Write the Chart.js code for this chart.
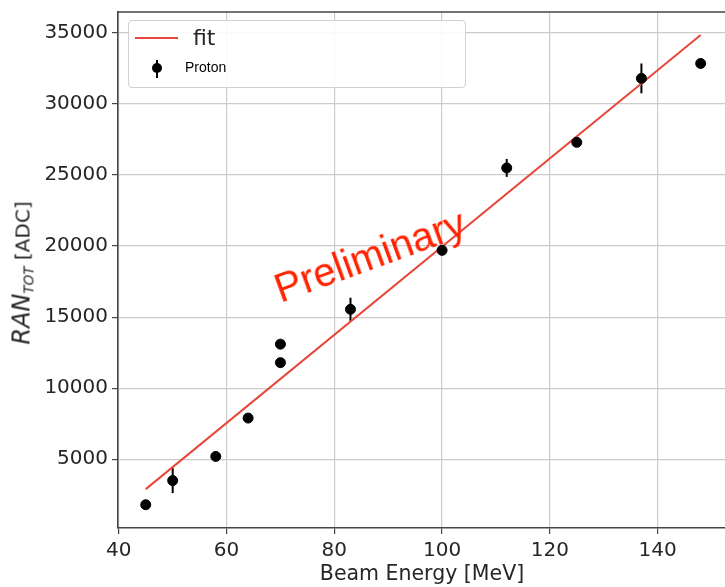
<!DOCTYPE html>
<html lang="en">
<head>
    <meta charset="UTF-8">
    <title>RAN_TOT vs Beam Energy</title>
    <script src="https://cdn.jsdelivr.net/npm/chart.js"></script>
    <style>
        body { margin: 0; background: #fff; overflow: hidden; }
        #wrap { position: relative; width: 725px; height: 587px; overflow: hidden; }
        canvas { position: absolute; left: 0; top: 0; }
        .abs { position: absolute; white-space: nowrap; }
        #ytitle {
            left: 22px; top: 273px;
            transform: translate(-50%, -50%) rotate(-90deg);
            font: 20px "DejaVu Sans", sans-serif; color: #262626;
        }
        #ytitle i.ran { font-size: 24px; }
        #ytitle sub { font-size: 13.5px; vertical-align: -4px; font-style: italic; }
        #legend {
            left: 128px; top: 20px; width: 336px; height: 66px;
            border: 1px solid #d0d0d0; border-radius: 4px;
            background: rgba(255, 255, 255, 0.9);
        }
        #prelim {
            left: 370px; top: 256px;
            transform: translate(-50%, -50%) rotate(-20deg);
            font: 40px "Liberation Sans", Arial, sans-serif; color: #ff2200;
        }
    </style>
</head>
<body>
<div id="wrap">
    <!-- canvas a little wider than the window: the original figure is cropped on the right -->
    <canvas id="c" width="732" height="587"></canvas>
    <div id="ytitle" class="abs"><i class="ran">RAN</i><sub>TOT</sub> [ADC]</div>
    <div id="legend" class="abs">
        <div class="abs" style="left:6px; top:16px; width:43px; height:2px; background:#e8473b;"></div>
        <div class="abs" style="left:64px; top:4px; font:22px 'DejaVu Sans', sans-serif; color:#262626;">fit</div>
        <div class="abs" style="left:27px; top:39px; width:2px; height:18px; background:#000;"></div>
        <div class="abs" style="left:23px; top:42px; width:10px; height:10px; border-radius:50%; background:#000;"></div>
        <div class="abs" style="left:56px; top:38px; font:14px 'Liberation Sans', Arial, sans-serif; color:#000;">Proton</div>
    </div>
    <div id="prelim" class="abs">Preliminary</div>
</div>
<script>
    // beam energy [MeV] and measured RAN_TOT [ADC]
    const energy = [45, 50, 58, 64, 70, 70, 83, 100, 112, 125, 137, 148];
    const ranTot = [1800, 3500, 5200, 7900, 11800, 13100, 15550, 19700, 25500, 27300, 31800, 32850];
    const ranErr = [0, 880, 0, 0, 0, 0, 820, 300, 630, 0, 1050, 0];

    // fit line end points
    const fitX = [45, 148];
    const fitY = [2900, 34860];

    const xTicks = [40, 60, 80, 100, 120, 140];
    const yTicks = [5000, 10000, 15000, 20000, 25000, 30000, 35000];

    const points = energy.map((e, i) => ({ x: e, y: ranTot[i] }));
    const fitPoints = fitX.map((e, i) => ({ x: e, y: fitY[i] }));

    // vertical error bars + top spine
    const extras = {
        id: 'extras',
        beforeDatasetsDraw(chart) {
            const ctx = chart.ctx, xs = chart.scales.x, ys = chart.scales.y;
            ctx.save();
            ctx.strokeStyle = '#000';
            ctx.lineWidth = 2;
            energy.forEach((e, i) => {
                if (!ranErr[i]) return;
                const px = xs.getPixelForValue(e);
                ctx.beginPath();
                ctx.moveTo(px, ys.getPixelForValue(ranTot[i] - ranErr[i]));
                ctx.lineTo(px, ys.getPixelForValue(ranTot[i] + ranErr[i]));
                ctx.stroke();
            });
            ctx.restore();
        },
        afterDraw(chart) {
            const ctx = chart.ctx, a = chart.chartArea;
            ctx.save();
            ctx.strokeStyle = '#444';
            ctx.lineWidth = 1.5;
            ctx.beginPath();
            ctx.moveTo(a.left, a.top);
            ctx.lineTo(a.right, a.top);
            ctx.stroke();
            ctx.restore();
        }
    };

    const tickFont = { family: 'DejaVu Sans', size: 20 };
    const plain = v => String(v);

    new Chart(document.getElementById('c'), {
        type: 'scatter',
        data: {
            datasets: [{
                label: 'Proton',
                data: points,
                backgroundColor: '#000',
                borderColor: '#000',
                pointRadius: 5,
                pointHoverRadius: 5
            }, {
                type: 'line',
                label: 'fit',
                data: fitPoints,
                borderColor: '#e8473b',
                borderWidth: 2,
                pointRadius: 0,
                fill: false
            }]
        },
        options: {
            responsive: false,
            animation: false,
            devicePixelRatio: 1,
            layout: { padding: { top: 12, right: 0, left: 0, bottom: 0 } },
            plugins: { legend: { display: false }, tooltip: { enabled: false } },
            scales: {
                x: {
                    type: 'linear',
                    min: 39.85,
                    max: 152.7,
                    afterBuildTicks: s => { s.ticks = xTicks.map(v => ({ value: v })); },
                    afterFit: s => { s.height = 59; },
                    ticks: { font: tickFont, color: '#262626', padding: 5, callback: plain },
                    grid: { color: '#cccccc', lineWidth: 1.2, tickColor: '#444', tickLength: 6 },
                    border: { display: true, color: '#444', width: 1.5 },
                    title: {
                        display: true,
                        text: 'Beam Energy [MeV]',
                        font: { family: 'DejaVu Sans', size: 20.5 },
                        color: '#262626',
                        padding: { top: 0, bottom: 0 }
                    }
                },
                y: {
                    type: 'linear',
                    min: 164,
                    max: 36472,
                    afterBuildTicks: s => { s.ticks = yTicks.map(v => ({ value: v })); },
                    afterFit: s => { s.width = 118; s.paddingTop = 0; s.paddingBottom = 0; },
                    ticks: { font: tickFont, color: '#262626', padding: 4, callback: plain },
                    grid: { color: '#cccccc', lineWidth: 1.2, tickColor: '#444', tickLength: 6 },
                    border: { display: true, color: '#444', width: 1.5 }
                }
            }
        },
        plugins: [extras]
    });
</script>
</body>
</html>
